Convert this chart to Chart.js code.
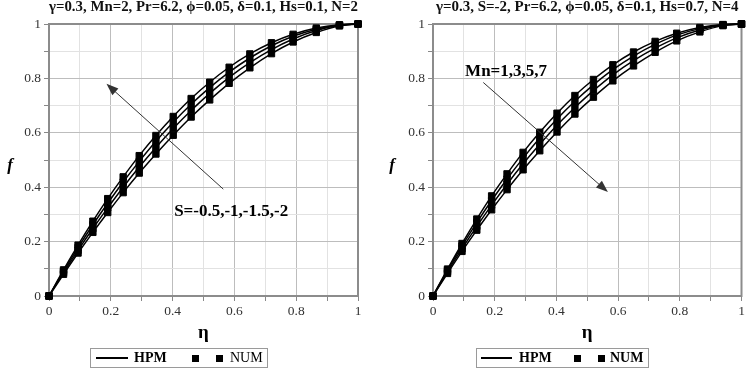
<!DOCTYPE html>
<html>
<head>
<meta charset="utf-8">
<script src="https://cdn.jsdelivr.net/npm/chart.js@4"></script>
<style>
  body { margin: 0; width: 748px; height: 371px; background: #fff; overflow: hidden; position: relative; font-family: "Liberation Serif", serif; }
  canvas { position: absolute; top: 0; }
  #left { left: 0; }
  #right { left: 374px; }
  .legend { position: absolute; top: 348px; height: 20px; border: 1px solid #9a9a9a; box-sizing: border-box; font-size: 14px; color: #000; }
  .legend span { position: absolute; }
  .legend .line { top: 8px; height: 2px; background: #000; }
  .legend .sq { top: 6px; width: 7px; height: 7px; background: #000; }
  .legend .txt { top: 0px; line-height: 18px; }
</style>
</head>
<body>
<canvas id="left" width="374" height="371"></canvas>
<canvas id="right" width="374" height="371"></canvas>

<div class="legend" style="left:90px; width:178px;">
  <span class="line" style="left:5px; width:32px;"></span>
  <span class="txt" style="left:43px; font-weight:bold;">HPM</span>
  <span class="sq" style="left:101px;"></span>
  <span class="sq" style="left:125px;"></span>
  <span class="txt" style="left:139px;">NUM</span>
</div>
<div class="legend" style="left:476px; width:173px;">
  <span class="line" style="left:4px; width:31px;"></span>
  <span class="txt" style="left:42px; font-weight:bold;">HPM</span>
  <span class="sq" style="left:97px;"></span>
  <span class="sq" style="left:121px;"></span>
  <span class="txt" style="left:133px; font-weight:bold;">NUM</span>
</div>

<script>
// eta positions of the plotted points (same for every curve)
const eta = [0, 0.047, 0.094, 0.142, 0.19, 0.24, 0.292, 0.346, 0.402, 0.46, 0.52, 0.583, 0.65, 0.72, 0.79, 0.865, 0.94, 1];

// left panel: S = -0.5, -1, -1.5, -2
const fS05 = [0, 0.096, 0.187, 0.275, 0.358, 0.438, 0.516, 0.590, 0.660, 0.726, 0.786, 0.841, 0.890, 0.931, 0.962, 0.985, 0.997, 1];
const fS1  = [0, 0.091, 0.178, 0.262, 0.341, 0.419, 0.495, 0.569, 0.639, 0.705, 0.766, 0.823, 0.875, 0.920, 0.955, 0.981, 0.996, 1];
const fS15 = [0, 0.086, 0.168, 0.248, 0.324, 0.400, 0.474, 0.546, 0.616, 0.682, 0.745, 0.804, 0.858, 0.906, 0.945, 0.976, 0.995, 1];
const fS2  = [0, 0.080, 0.158, 0.234, 0.307, 0.380, 0.452, 0.522, 0.591, 0.658, 0.721, 0.782, 0.839, 0.891, 0.934, 0.969, 0.993, 1];

// right panel: Mn = 1, 3, 5, 7
const fMn1 = [0, 0.099, 0.193, 0.283, 0.368, 0.449, 0.528, 0.602, 0.672, 0.737, 0.796, 0.850, 0.897, 0.936, 0.966, 0.987, 0.998, 1];
const fMn3 = [0, 0.094, 0.184, 0.270, 0.351, 0.430, 0.507, 0.581, 0.651, 0.716, 0.776, 0.832, 0.882, 0.925, 0.959, 0.983, 0.997, 1];
const fMn5 = [0, 0.089, 0.174, 0.256, 0.334, 0.411, 0.486, 0.558, 0.628, 0.693, 0.755, 0.813, 0.865, 0.911, 0.949, 0.978, 0.996, 1];
const fMn7 = [0, 0.083, 0.164, 0.242, 0.317, 0.391, 0.464, 0.534, 0.603, 0.669, 0.731, 0.791, 0.846, 0.896, 0.938, 0.971, 0.994, 1];

const leftTitle = 'γ=0.3, Mn=2, Pr=6.2, ϕ=0.05, δ=0.1, Hs=0.1, N=2';
const rightTitle = 'γ=0.3, S=-2, Pr=6.2, ϕ=0.05, δ=0.1, Hs=0.7, N=4';
const leftNote = 'S=-0.5,-1,-1.5,-2';
const rightNote = 'Mn=1,3,5,7';

const serif = '"Liberation Serif", "Times New Roman", serif';

const toPoints = (ys) => ys.map((y, i) => ({ x: eta[i], y: y }));

const makeDatasets = (series) => {
  const sets = [];
  series.forEach(ys => {
    sets.push({
      label: 'HPM',
      data: toPoints(ys),
      borderColor: '#000',
      borderWidth: 1.5,
      pointRadius: 0,
      cubicInterpolationMode: 'monotone',
      clip: false,
    });
    sets.push({
      label: 'NUM',
      data: toPoints(ys),
      showLine: false,
      pointStyle: 'rect',
      pointRadius: 4.5,
      backgroundColor: '#000',
      borderColor: '#000',
      borderWidth: 1,
      clip: false,
    });
  });
  return sets;
};

// frame, upright "f", arrow and the parameter note
const extras = {
  id: 'extras',
  beforeDatasetsDraw(chart) {
    const { ctx, chartArea: a } = chart;
    ctx.save();
    ctx.strokeStyle = '#8c8c8c';
    ctx.lineWidth = 2;
    ctx.strokeRect(a.left, a.top, a.right - a.left, a.bottom - a.top);
    ctx.restore();
  },
  afterDatasetsDraw(chart, args, opts) {
    const { ctx, scales } = chart;
    const sx = scales.x, sy = scales.y;
    ctx.save();
    // y label
    ctx.font = 'italic bold 17px ' + serif;
    ctx.fillStyle = '#000';
    ctx.textAlign = 'center';
    ctx.textBaseline = 'middle';
    ctx.fillText('f', opts.fX, sy.getPixelForValue(0.48));
    // arrow
    const x1 = sx.getPixelForValue(opts.arrow[0]), y1 = sy.getPixelForValue(opts.arrow[1]);
    const x2 = sx.getPixelForValue(opts.arrow[2]), y2 = sy.getPixelForValue(opts.arrow[3]);
    const ang = Math.atan2(y2 - y1, x2 - x1);
    ctx.strokeStyle = '#333';
    ctx.fillStyle = '#333';
    ctx.lineWidth = 1;
    ctx.beginPath();
    ctx.moveTo(x1, y1);
    ctx.lineTo(x2 - 8 * Math.cos(ang), y2 - 8 * Math.sin(ang));
    ctx.stroke();
    ctx.beginPath();
    ctx.moveTo(x2, y2);
    ctx.lineTo(x2 - 12 * Math.cos(ang) + 4.5 * Math.sin(ang), y2 - 12 * Math.sin(ang) - 4.5 * Math.cos(ang));
    ctx.lineTo(x2 - 12 * Math.cos(ang) - 4.5 * Math.sin(ang), y2 - 12 * Math.sin(ang) + 4.5 * Math.cos(ang));
    ctx.closePath();
    ctx.fill();
    // note
    ctx.font = 'bold 17px ' + serif;
    ctx.fillStyle = '#000';
    ctx.textAlign = 'left';
    ctx.fillText(opts.note, sx.getPixelForValue(opts.notePos[0]), sy.getPixelForValue(opts.notePos[1]));
    ctx.restore();
  }
};

const tickText = (v) => {
  const k = Math.round(v * 10);
  if (k % 2 !== 0) return '';
  return k === 10 ? '1' : k === 0 ? '0' : (k / 10).toString();
};

const gridColor = (c) => {
  const k = Math.round(c.tick.value * 10);
  return k % 2 === 0 ? '#bdbdbd' : '#e2e2e2';
};

const makeConfig = (title, series, yWidth, padRight, extraOpts) => {
  return {
    type: 'line',
    data: { datasets: makeDatasets(series) },
    options: {
      responsive: false,
      animation: false,
      devicePixelRatio: 1,
      events: [],
      layout: { padding: { left: 0, right: padRight, top: 0, bottom: 27 } },
      plugins: {
        legend: { display: false },
        tooltip: { enabled: false },
        title: {
          display: true,
          text: title,
          fullSize: false,
          color: '#111',
          font: { family: serif, size: 15, weight: 'bold', lineHeight: 1 },
          padding: { top: 0, bottom: 9 },
        },
        extras: extraOpts,
      },
      scales: {
        x: {
          type: 'linear',
          min: 0,
          max: 1,
          afterFit: (scale) => { scale.height = 48; },
          border: { display: false },
          grid: { color: gridColor, tickColor: '#888', tickLength: 5, lineWidth: 1 },
          ticks: {
            stepSize: 0.1,
            autoSkip: false,
            maxRotation: 0,
            padding: 2,
            color: '#333',
            font: { family: serif, size: 13.5 },
            callback: tickText,
          },
          title: {
            display: true,
            text: 'η',
            color: '#000',
            font: { family: serif, size: 19, weight: 'bold' },
            padding: { top: 0, bottom: 0 },
          },
        },
        y: {
          type: 'linear',
          min: 0,
          max: 1,
          afterFit: (scale) => { scale.width = yWidth; },
          border: { display: false },
          grid: { color: gridColor, tickColor: '#888', tickLength: 5, lineWidth: 1 },
          ticks: {
            stepSize: 0.1,
            autoSkip: false,
            padding: 3,
            color: '#333',
            font: { family: serif, size: 13.5 },
            callback: tickText,
          },
        },
      },
    },
    plugins: [extras],
  };
};

const ctx1 = document.getElementById('left').getContext('2d');
const ctx2 = document.getElementById('right').getContext('2d');

const myChart1 = new Chart(ctx1, makeConfig(leftTitle, [fS05, fS1, fS15, fS2], 49, 16, {
  fX: 10,
  arrow: [0.564, 0.393, 0.186, 0.78],
  note: leftNote,
  notePos: [0.405, 0.31],
}));

const myChart2 = new Chart(ctx2, makeConfig(rightTitle, [fMn1, fMn3, fMn5, fMn7], 59, 6.5, {
  fX: 18,
  arrow: [0.163, 0.785, 0.567, 0.382],
  note: rightNote,
  notePos: [0.104, 0.826],
}));
</script>
</body>
</html>
